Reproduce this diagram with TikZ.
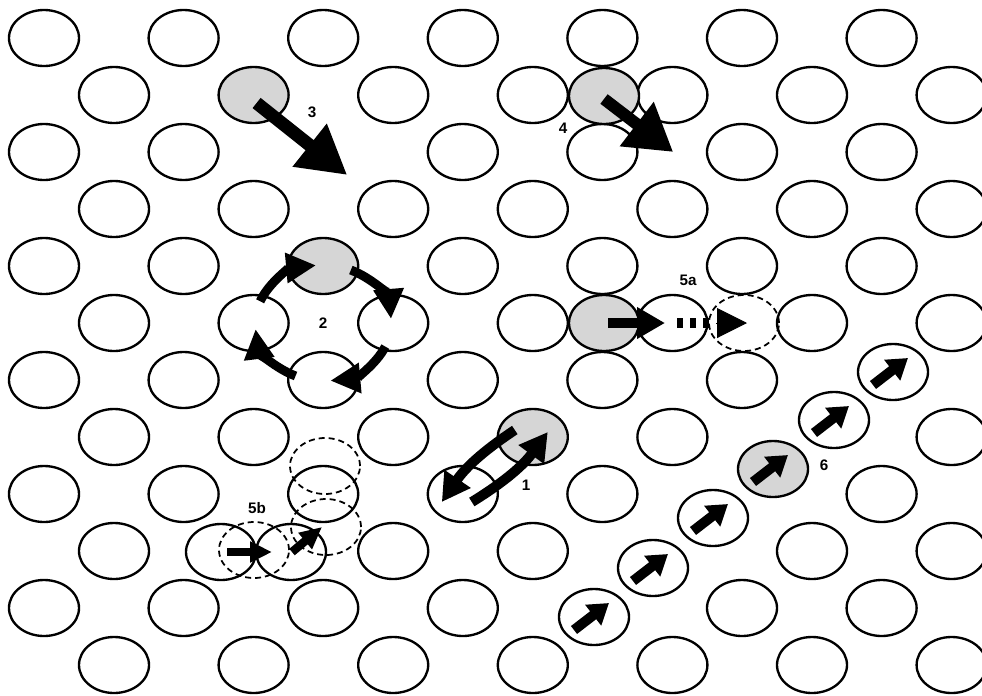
\documentclass[tikz,border=0pt]{standalone}
\usepackage{fontspec}
\setmainfont{Liberation Sans}
\usetikzlibrary{shapes.geometric,arrows.meta,calc}
\pgfkeys{/lat/.cd,
  2-2/.code={\def\doskip{1}},
  6-6/.code={\def\doskip{1}},
  7-5/.code={\def\doskip{1}},
  8-5/.code={\def\doskip{1}},
  9-1/.code={\def\doskip{1}},
  9-4/.code={\def\doskip{1}},
  10-4/.code={\def\doskip{1}},
  1-1/.code={\def\dogray{1}},
  4-2/.code={\def\dogray{1}},
  7-3/.code={\def\dogray{1}}}
\begin{document}
\begin{tikzpicture}[x=0.03cm,y=-0.03cm,
  atom/.style={ellipse,draw=black,line width=2pt,minimum width=59.75pt,minimum height=47.8pt,inner sep=0pt,outer sep=0pt},
  gatom/.style={atom,fill=gray!32},
  ghost/.style={ellipse,draw=black,line width=1.5pt,dash pattern=on 5.12pt off 3.41pt,minimum width=59.75pt,minimum height=47.8pt,inner sep=0pt,outer sep=0pt},
  lbl/.style={font=\fontsize{13}{15}\selectfont\bfseries,inner sep=0pt},
  arbig/.style={line width=11.1pt,-{Triangle[length=40.97pt,width=44pt]}},
  arfour/.style={line width=10.24pt,-{Triangle[length=39.26pt,width=45pt]}},
  armid/.style={line width=8.54pt,-{Triangle[length=23.9pt,width=25.6pt]}},
  arring/.style={line width=7.68pt,-{Triangle[length=25.6pt,width=24.5pt]}},
  archain/.style={line width=8.54pt,-{Triangle[length=17.07pt,width=21.34pt]}},
  arfive/.style={line width=7.2pt,-{Triangle[length=18.78pt,width=17pt]}}
]
\fill[white] (0,0) rectangle (982,695);
\useasboundingbox (0,0) rectangle (982,695);

% regular lattice
\foreach \r in {0,...,11}{
  \foreach \k in {0,...,6}{
    \def\doskip{0}\def\dogray{0}%
    \edef\tmp{\noexpand\pgfkeys{/lat/\r-\k/.try}}\tmp
    \ifnum\doskip=0
      \pgfmathsetmacro\xx{44+70*mod(\r,2)+139.6*\k}%
      \pgfmathsetmacro\yy{38+57*\r}%
      \ifnum\dogray=1
        \node[gatom] (n-\r-\k) at (\xx,\yy) {};
      \else
        \node[atom] (n-\r-\k) at (\xx,\yy) {};
      \fi
    \fi
  }
}

% sites without atoms
\coordinate (v3) at (323.2,152);
\coordinate (s4) at ($(n-2-4)!0.5!(n-2-5)$);

% interstitials
\node[gatom] (i4) at (604,96) {};
\node[gatom] (i5) at (604,323) {};
\node[ghost] (d5) at (744,323) {};

% crowdion chain
\node[atom]  (c1) at (594,617) {};
\node[atom]  (c2) at (653,568) {};
\node[atom]  (c3) at (713,518) {};
\node[gatom] (c4) at (773,469) {};
\node[atom]  (c5) at (834,420) {};
\node[atom]  (c6) at (893,372) {};

% dumbbell 5b
\node[atom]  (b1) at (221,552) {};
\node[atom]  (b2) at (291,552) {};
\node[ghost] (bv) at (254,550) {};
\node[ghost] (bu) at (325,466) {};
\node[ghost] (bl) at (326,527) {};

% labels
\node[lbl] (l1) at (526,485) {1};
\node[lbl] (l2) at (323.2,323) {2};
\node[lbl] (l3) at (312,112) {3};
\node[lbl] (l4) at (563,128) {4};
\node[lbl] (l5a) at (688,280) {5a};
\node[lbl] (l5b) at (257,508) {5b};
\node[lbl] (l6) at (824,465) {6};

% 1: exchange
\draw[armid] ($(n-7-3)+(-18,-7)$) to[bend right=11] ($(n-8-3)+(-21,8)$);
\draw[armid] ($(n-8-3)+(9,8)$) to[bend right=11] ($(n-7-3)+(15,-5)$);

% 2: ring
\draw[arring] ($(l2)+(-158:68 and 58)$) arc[start angle=-158,end angle=-96,x radius=68,y radius=58];
\draw[arring] ($(l2)+(-66:68 and 58)$) arc[start angle=-66,end angle=-4,x radius=68,y radius=58];
\draw[arring] ($(l2)+(24:68 and 58)$) arc[start angle=24,end angle=84,x radius=68,y radius=58];
\draw[arring] ($(l2)+(114:68 and 58)$) arc[start angle=114,end angle=174,x radius=68,y radius=58];

% 3: vacancy
\draw[arbig] ($(n-1-1)+(3,8)$) -- ($(v3)+(24,23)$);

% 4: interstitial
\draw[arfour] ($(i4)+(0,3)$) -- ($(s4)+(1,0)$);

% 5a
\draw[armid] ($(i5)+(4,0)$) -- (665,323);
\draw[line width=8.54pt,dash pattern=on 5.12pt off 5.98pt] (677,323) -- (711,323);
\draw[line width=0.85pt,-{Triangle[length=25.6pt,width=25.6pt]}] (716,323) -- ($(d5)+(3,0)$);

% 5b
\draw[arfive] ($(b1)+(6,0)$) -- ($(b2)+(-19,0)$);
\draw[arfive] ($(b2)+(1,0)$) -- ($(bl)+(-4,0)$);

% 6: crowdion
\foreach \c in {c1,c2,c3,c4,c5,c6}{
  \draw[archain] ($(\c)+(-20,13)$) -- ($(\c)+(15,-14)$);
}
\end{tikzpicture}
\end{document}
